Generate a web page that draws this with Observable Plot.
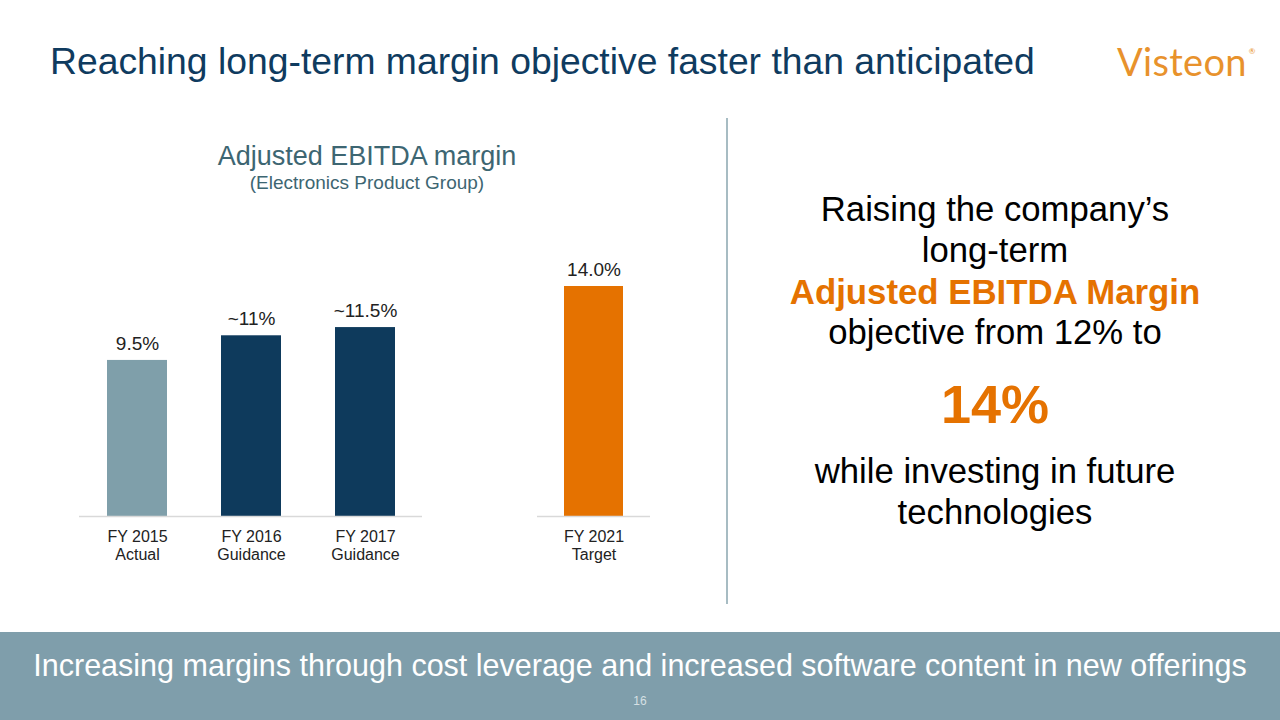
<!DOCTYPE html>
<html>
<head>
<meta charset="utf-8">
<script src="https://cdn.jsdelivr.net/npm/d3@7"></script>
<script src="https://cdn.jsdelivr.net/npm/@observablehq/plot@0.6"></script>
<style>
  html, body { margin: 0; padding: 0; background: #fff; }
  body { width: 1280px; height: 720px; position: relative; overflow: hidden; font-family: "Liberation Sans", Arial, sans-serif; }
  .abs { position: absolute; }
  #title { left: 50px; top: 40px; font-size: 37.3px; line-height: 42px; color: #0f3b5f; white-space: nowrap; }
  #logo { left: 1117px; top: 28px; font-family: "Lato", sans-serif; font-weight: 400; font-size: 38px; line-height: 46px; color: #e8922c; letter-spacing: 0.3px; }
  #logo sup { font-size: 8px; vertical-align: 22px; margin-left: 2px; }
  #ctitle { left: 167px; width: 400px; top: 140px; text-align: center; color: #3d6672; }
  #ctitle .t1 { font-size: 27px; line-height: 32px; }
  #ctitle .t2 { font-size: 19px; line-height: 22px; }
  #divider { left: 726px; top: 118px; width: 2px; height: 486px; background: #a7bcc3; }
  #right { left: 770px; width: 450px; top: 189px; text-align: center; font-size: 34.7px; line-height: 41px; color: #000; white-space: nowrap; }
  #right .or { color: #e57200; font-weight: bold; font-size: 34.8px; }
  #right .big { color: #e57200; font-weight: bold; font-size: 54px; line-height: 60px; margin: 21px 0 17px 0; }
  #footer { left: 0; top: 632px; width: 1280px; height: 88px; background: #7f9eab; }
  #footer .msg { position: absolute; left: 0; width: 1280px; top: 15px; text-align: center; color: #fff; font-size: 30.5px; line-height: 36px; white-space: nowrap; }
  #footer .pg { position: absolute; left: 0; width: 1280px; top: 62px; text-align: center; color: #d6e0e4; font-size: 12px; }
  #chart1 { left: 79px; top: 240px; }
  #chart2 { left: 537px; top: 240px; }
</style>
</head>
<body>
<div id="title" class="abs">Reaching long-term margin objective faster than anticipated</div>
<div id="logo" class="abs">Visteon<sup>®</sup></div>
<div id="ctitle" class="abs"><div class="t1">Adjusted EBITDA margin</div><div class="t2">(Electronics Product Group)</div></div>
<div id="divider" class="abs"></div>
<div id="right" class="abs">
  <div>Raising the company’s</div>
  <div>long-term</div>
  <div class="or">Adjusted EBITDA Margin</div>
  <div>objective from 12% to</div>
  <div class="big">14%</div>
  <div>while investing in future</div>
  <div>technologies</div>
</div>
<div id="chart1" class="abs"></div>
<div id="chart2" class="abs"></div>
<div id="footer" class="abs"><div class="msg">Increasing margins through cost leverage and increased software content in new offerings</div><div class="pg">16</div></div>
<script>
// ---- data ----
const periodsA = ["FY 2015\nActual", "FY 2016\nGuidance", "FY 2017\nGuidance"];
const valuesA = [9.5, 11, 11.5];
const labelsA = ["9.5%", "~11%", "~11.5%"];
const kindsA = ["Actual", "Guidance", "Guidance"];

const periodsB = ["FY 2021\nTarget"];
const valuesB = [14.0];
const labelsB = ["14.0%"];
const kindsB = ["Target"];

const kindDomain = ["Actual", "Guidance", "Target"];
const kindColors = ["#7f9faa", "#0e3a5c", "#e57200"];

function build(periods, values, labels, kinds, width) {
  const rows = periods.map((p, i) => ({period: p, value: values[i], label: labels[i], kind: kinds[i]}));
  return Plot.plot({
    width, height: 336,
    marginLeft: 0, marginRight: 0, marginTop: 46, marginBottom: 60,
    style: {fontFamily: "Liberation Sans, Arial, sans-serif", background: "transparent", overflow: "visible"},
    x: {domain: periods, paddingInner: 0.474, paddingOuter: 0.24, label: null},
    y: {domain: [0, 14], axis: null},
    color: {domain: kindDomain, range: kindColors},
    marks: [
      Plot.barY(rows, {x: "period", y: "value", fill: "kind"}),
      Plot.ruleY([0], {stroke: "#d9d9d9", strokeWidth: 1.5}),
      Plot.text(rows, {x: "period", y: "value", text: "label", dy: -17, fontSize: 19, fill: "#222"}),
      Plot.axisX({tickSize: 0, tickPadding: 12, fontSize: 16, lineHeight: 1.15, fill: "#222", label: null, textAnchor: "middle", lineAnchor: "top"})
    ]
  });
}

document.getElementById("chart1").append(build(periodsA, valuesA, labelsA, kindsA, 343));
document.getElementById("chart2").append(build(periodsB, valuesB, labelsB, kindsB, 113));
</script>
</body>
</html>
